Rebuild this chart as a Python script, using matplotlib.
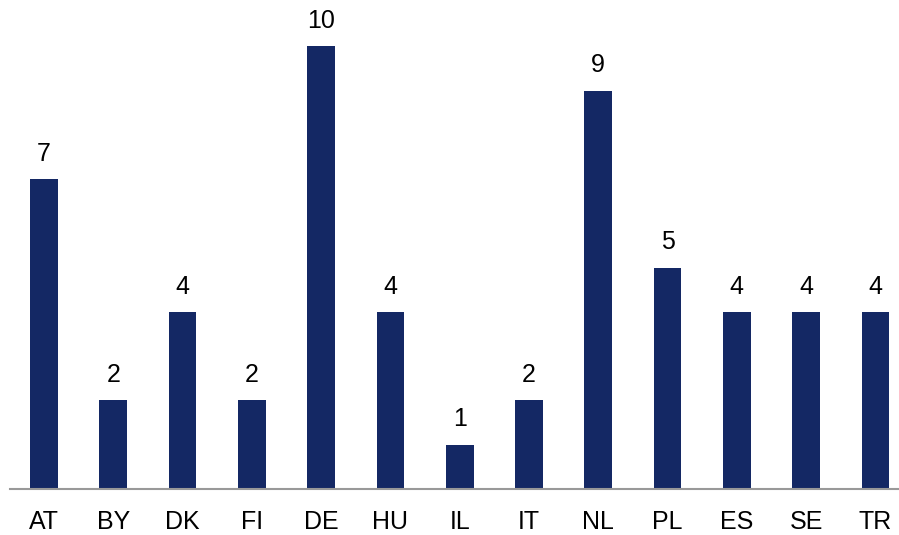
import matplotlib
matplotlib.use('Agg')
import matplotlib.pyplot as plt

countries = ['AT', 'BY', 'DK', 'FI', 'DE', 'HU', 'IL', 'IT', 'NL', 'PL', 'ES', 'SE', 'TR']
counts = [7, 2, 4, 2, 10, 4, 1, 2, 9, 5, 4, 4, 4]

plt.rcParams['font.family'] = ['Liberation Sans', 'DejaVu Sans']

fig = plt.figure(figsize=(8.99, 5.35), dpi=100)
ax = fig.add_axes([10 / 899, 46 / 535, 889 / 899, 487 / 535])

x = range(len(countries))
bars = ax.bar(x, counts, width=0.4, color='#142864')

for b, v in zip(bars, counts):
    ax.text(b.get_x() + b.get_width() / 2, v + 0.3, str(v),
            ha='center', va='bottom', fontsize=18)

ax.set_xlim(-0.49, 12.34)
ax.set_ylim(0, 11)
ax.set_xticks(list(x))
ax.set_xticklabels(countries, fontsize=18)
ax.tick_params(axis='x', length=0, pad=15)
ax.set_yticks([])
for s in ['top', 'right', 'left']:
    ax.spines[s].set_visible(False)
ax.spines['bottom'].set_color('#999999')
ax.spines['bottom'].set_linewidth(1.5)

fig.savefig('out.png', dpi=100)
